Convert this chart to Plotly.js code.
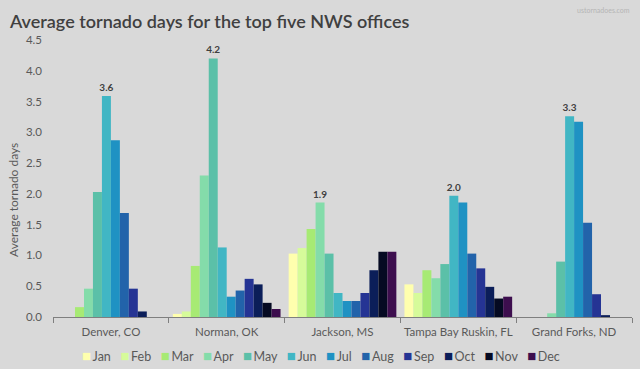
<!DOCTYPE html>
<html>
<head>
<meta charset="utf-8">
<script src="https://cdn.plot.ly/plotly-3.0.1.min.js"></script>
<style>html,body{margin:0;padding:0;background:#d9d9d9;}#chart{width:640px;height:369px;}</style>
</head>
<body>
<div id="chart"></div>
<script>
// ---- data ----
const months = ['Jan','Feb','Mar','Apr','May','Jun','Jul','Aug','Sep','Oct','Nov','Dec'];
const offices = ['Denver, CO','Norman, OK','Jackson, MS','Tampa Bay Ruskin, FL','Grand Forks, ND'];
const denver     = [0, 0, 0.16, 0.46, 2.03, 3.59, 2.87, 1.69, 0.46, 0.09, 0, 0];
const norman     = [0.05, 0.09, 0.83, 2.30, 4.20, 1.13, 0.33, 0.43, 0.62, 0.53, 0.23, 0.13];
const jackson    = [1.03, 1.12, 1.43, 1.86, 1.03, 0.39, 0.26, 0.26, 0.39, 0.76, 1.06, 1.06];
const tampa      = [0.53, 0.39, 0.76, 0.63, 0.86, 1.97, 1.86, 1.03, 0.79, 0.49, 0.30, 0.33];
const grandForks = [0, 0, 0, 0.06, 0.90, 3.26, 3.17, 1.53, 0.37, 0.03, 0, 0];
const yTicks = [0, 0.5, 1, 1.5, 2, 2.5, 3, 3.5, 4, 4.5];

// ---- styles ----
const monthColors = ['#ffffae','#d6fb9a','#a7ea74','#84dcaa','#5bc0a8','#41b6c4',
                     '#1f92c3','#2263aa','#253494','#0b1e59','#050a22','#3d0e4e'];
const FONT = 'Lato, "Open Sans", sans-serif';
const TXT = '#595959';

const byOffice = [denver, norman, jackson, tampa, grandForks];
const maxIdx = byOffice.map(a => a.indexOf(Math.max(...a)));

const traces = months.map((m, mi) => ({
  type: 'bar',
  name: m,
  x: offices,
  y: byOffice.map(a => a[mi]),
  text: byOffice.map((a, oi) => maxIdx[oi] === mi ? a[mi].toFixed(1) : ''),
  textposition: 'outside',
  constraintext: 'none',
  cliponaxis: false,
  textfont: {family: FONT, size: 10, color: '#404040', weight: 'bold'},
  marker: {color: monthColors[mi]},
  hoverinfo: 'x+y+name'
}));

const legendText = months.map((m, i) =>
  '<span style="color:' + monthColors[i] + ';font-size:15px">\u25A0</span>\u2009' + m).join('\u00a0\u00a0\u00a0');

const layout = {
  width: 640, height: 369,
  paper_bgcolor: '#d9d9d9', plot_bgcolor: '#d9d9d9',
  margin: {l: 53, r: 8, t: 40, b: 52},
  font: {family: FONT, color: TXT, size: 12},
  showlegend: false,
  barmode: 'group', bargap: 0.07, bargroupgap: 0,
  title: {text: 'Average tornado days for the top five NWS offices',
          font: {family: FONT, size: 18, color: '#404040', weight: 600},
          xref: 'container', x: 10/640, xanchor: 'left',
          yref: 'container', y: 1 - 22/369, yanchor: 'middle'},
  xaxis: {type: 'category', showline: true, linecolor: '#7f7f7f', linewidth: 1,
          ticks: 'outside', ticklen: 5, tickcolor: '#7f7f7f', tickson: 'boundaries',
          tickangle: 0, automargin: false, ticklabelstandoff: 4,
          showgrid: false, zeroline: false,
          tickfont: {family: FONT, size: 11.5, color: TXT}},
  yaxis: {range: [0, 4.5], tickvals: yTicks, tickformat: '.1f', showgrid: false,
          zeroline: false, showline: false, ticks: '', ticklabelstandoff: 10,
          tickfont: {family: FONT, size: 11.5, color: TXT}},
  annotations: [
    {text: 'Average tornado days', textangle: -90, xref: 'paper', yref: 'paper',
     x: 0, xshift: -40, y: (317 - 200) / 277, xanchor: 'center', yanchor: 'middle',
     showarrow: false, font: {family: FONT, size: 12, color: TXT}},
    {text: 'ustornadoes.com', xref: 'paper', yref: 'paper', x: 1, xanchor: 'right',
     y: 1, yshift: 30, yanchor: 'middle', showarrow: false,
     font: {family: FONT, size: 7, color: '#b5b5b5'}},
    {text: legendText, xref: 'paper', yref: 'paper', x: 0.5, xanchor: 'center', xshift: -22,
     y: (317 - 355) / 277, yanchor: 'middle', showarrow: false,
     font: {family: FONT, size: 12.5, color: TXT}}
  ]
};

Plotly.newPlot('chart', traces, layout, {displayModeBar: false, staticPlot: true});
</script>
</body>
</html>
